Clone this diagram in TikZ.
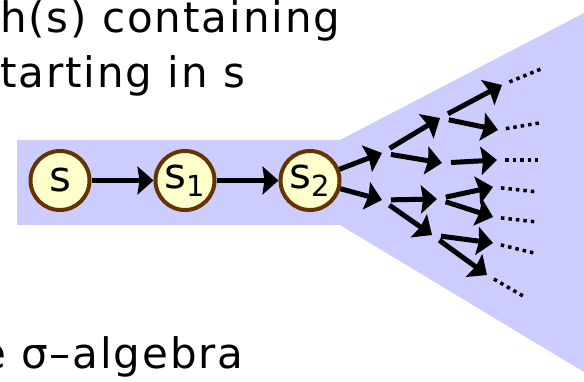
\documentclass[tikz,border=0pt]{standalone}
\usepackage{fontspec}
\setmainfont{DejaVu Sans}[LetterSpace=4.5]
\usetikzlibrary{arrows.meta,positioning}
\definecolor{band}{HTML}{CCCCFF}
\definecolor{statefill}{HTML}{FFFFCC}
\definecolor{stateline}{HTML}{663300}
\newcommand{\sub}[1]{\raisebox{-8pt}{\fontsize{29}{30}\selectfont #1}}

\begin{document}
\begin{tikzpicture}[x=1pt, y=-1pt,
  every node/.style={font=\fontsize{42}{50}\selectfont},
  state/.style={circle, draw=stateline, fill=statefill, line width=4pt,
                minimum size=59pt, inner sep=0pt},
  caption/.style={anchor=base west, inner sep=0pt},
  arr/.style={-{Stealth[length=16pt, width=28pt, inset=2pt]}, line width=5pt},
  branch/.style={arr, shorten <=9pt},
  dots/.style={line width=3.5pt, dash pattern=on 3.5pt off 4pt, shorten <=8pt}
]
  \useasboundingbox (0,0) rectangle (584,382);

  % band with the fan of continuations
  \fill[band] (17,140) -- (340,140) -- (584,13) -- (584,372) -- (340,225) -- (17,225) -- cycle;

  \node[caption] (t1) at (0,33) {h(s) containing};
  \node[caption] (t2) at (0,88) {tarting in s};
  \node[caption] (t3) at (-20,368) {e σ–algebra};

  \node[state] (s) at (60,180.5) {s};
  \node[state, right=62pt of s] (s1) {s\sub{1}};
  \node[state, right=62pt of s1] (s2) {s\sub{2}};

  \draw[arr] (s) -- (s1);
  \draw[arr] (s1) -- (s2);

  % tree of successors
  \coordinate (a1) at (382,153);
  \coordinate (a2) at (382,200);
  \coordinate (b1) at (440,118);
  \coordinate (b2) at (442,163);
  \coordinate (b3) at (437,199);
  \coordinate (b4) at (432,235);
  \coordinate (c1) at (502,85);
  \coordinate (c2) at (498,130);
  \coordinate (c3) at (497,160);
  \coordinate (c4) at (493,187);
  \coordinate (c5) at (493,217);
  \coordinate (c6) at (493,243);
  \coordinate (c7) at (487,275);
  \coordinate (d1) at (541,69);
  \coordinate (d2) at (539,123);
  \coordinate (d3) at (538,160);
  \coordinate (d4) at (538,192);
  \coordinate (d5) at (537,222);
  \coordinate (d6) at (534,253);
  \coordinate (d7) at (523,296);

  \draw[arr] (s2) -- (a1);
  \draw[arr] (s2) -- (a2);
  \draw[branch] (a1) -- (b1);
  \draw[branch] (a1) -- (b2);
  \draw[branch] (a2) -- (b3);
  \draw[branch] (a2) -- (b4);
  \draw[branch] (b1) -- (c1);
  \draw[branch] (b1) -- (c2);
  \draw[branch] (b2) -- (c3);
  \draw[branch] (b3) -- (c4);
  \draw[branch] (b3) -- (c5);
  \draw[branch] (b4) -- (c6);
  \draw[branch] (b4) -- (c7);

  \foreach \i in {1,...,7}
    \draw[dots] (c\i) -- (d\i);
\end{tikzpicture}
\end{document}
